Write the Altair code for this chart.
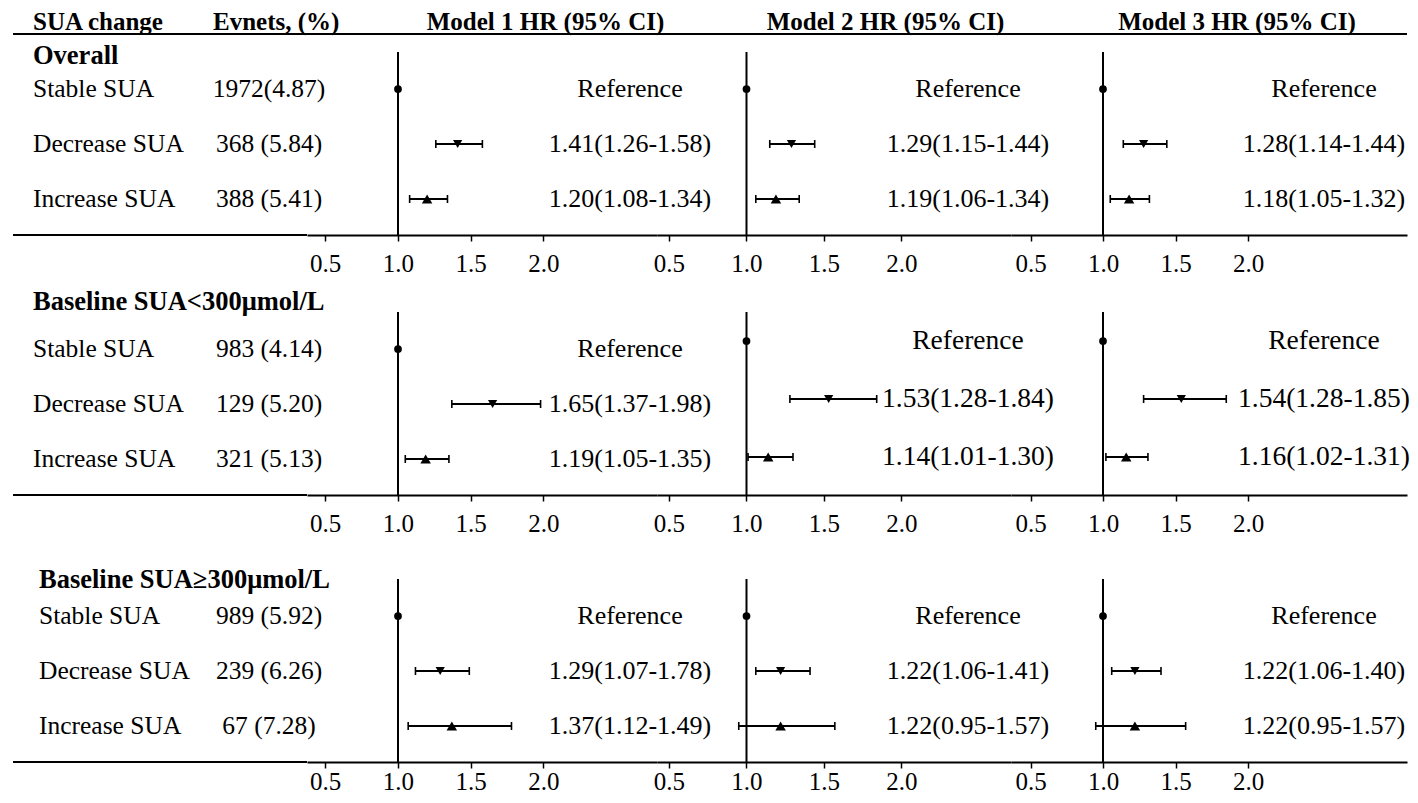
import altair as alt
import pandas as pd

FONT = "Liberation Serif"

# ---------------- data ----------------
sections = ["Overall", "Baseline SUA<300μmol/L", "Baseline SUA≥300μmol/L"]
groups = ["Stable SUA", "Decrease SUA", "Increase SUA"]
shapes = ["circle", "triangle-down", "triangle-up"]
events = [
    ["1972(4.87)", "368 (5.84)", "388 (5.41)"],
    ["983 (4.14)", "129 (5.20)", "321 (5.13)"],
    ["989 (5.92)", "239 (6.26)", "67 (7.28)"],
]
models = ["Model 1 HR (95% CI)", "Model 2 HR (95% CI)", "Model 3 HR (95% CI)"]
header_left = ["SUA change", "Evnets, (%)"]
tick_values = [0.5, 1.0, 1.5, 2.0]

# printed HR text  [section][model][row]
hr_text = [
    [["Reference", "1.41(1.26-1.58)", "1.20(1.08-1.34)"],
     ["Reference", "1.29(1.15-1.44)", "1.19(1.06-1.34)"],
     ["Reference", "1.28(1.14-1.44)", "1.18(1.05-1.32)"]],
    [["Reference", "1.65(1.37-1.98)", "1.19(1.05-1.35)"],
     ["Reference", "1.53(1.28-1.84)", "1.14(1.01-1.30)"],
     ["Reference", "1.54(1.28-1.85)", "1.16(1.02-1.31)"]],
    [["Reference", "1.29(1.07-1.78)", "1.37(1.12-1.49)"],
     ["Reference", "1.22(1.06-1.41)", "1.22(0.95-1.57)"],
     ["Reference", "1.22(1.06-1.40)", "1.22(0.95-1.57)"]],
]
# plotted estimates (as drawn)  [section][model][row]
hr = [
    [[1.0, 1.41, 1.20], [1.0, 1.29, 1.19], [1.0, 1.28, 1.18]],
    [[1.0, 1.65, 1.19], [1.0, 1.53, 1.14], [1.0, 1.54, 1.16]],
    [[1.0, 1.29, 1.37], [1.0, 1.22, 1.22], [1.0, 1.22, 1.22]],
]
lo = [
    [[None, 1.26, 1.08], [None, 1.15, 1.06], [None, 1.14, 1.05]],
    [[None, 1.37, 1.05], [None, 1.28, 1.01], [None, 1.28, 1.02]],
    [[None, 1.12, 1.07], [None, 1.06, 0.95], [None, 1.06, 0.95]],
]
hi = [
    [[None, 1.58, 1.34], [None, 1.44, 1.34], [None, 1.44, 1.32]],
    [[None, 1.98, 1.35], [None, 1.84, 1.30], [None, 1.85, 1.31]],
    [[None, 1.49, 1.78], [None, 1.41, 1.57], [None, 1.40, 1.57]],
]

# ---------------- layout / style ----------------
LABEL_W = 294
MODEL_W = [350, 354, 396]
COL_W = [LABEL_W] + MODEL_W
XDOM = [[0.3746, 2.7801], [0.4226, 2.7065], [0.3655, 3.0965]]
SEC_H = 183
YDOM_DEFAULT = [0.3273, 3.6545]
YDOM_ALT = [0.5, 3.655]          # section 2, models 2 & 3 drawn with wider row spacing
TEXT_X = [323, 311, 313]
LABEL_X = [20, 20, 26]
EVENTS_X = 256
TITLE_DY = [22.5, 8, 19]
LABEL_PAD = [10, 10, 1]
HEADER_H = 24
HEADER_MODEL_X = [238.5, 228.5, 226]
GAPS = [18, 77, 84]
MARKER_SIZES = [60, 110, 110]


def ydom(s, m):
    if s == 1 and m in (1, 2):
        return YDOM_ALT
    return YDOM_DEFAULT


def model_panel(s, m):
    df = pd.DataFrame({
        "row": [1, 2, 3],
        "shape": shapes,
        "hr": hr[s][m],
        "lo": lo[s][m],
        "hi": hi[s][m],
        "label": hr_text[s][m],
    })
    axis = alt.Axis(values=tick_values, format=".1f", title=None, grid=False,
                    tickSize=6, labelPadding=LABEL_PAD[s])
    xscale = alt.Scale(domain=XDOM[m], nice=False, zero=False)
    y = alt.Y("row:Q", scale=alt.Scale(domain=ydom(s, m), reverse=True, nice=False, zero=False),
              axis=None)
    base = alt.Chart(df)
    ci_base = base.transform_filter("isValid(datum.lo)")

    ref = base.transform_filter("datum.row == 1").mark_rule(color="black", strokeWidth=2).encode(
        x=alt.X("hr:Q", scale=xscale, axis=axis, title=None))
    ci = ci_base.mark_rule(color="black", strokeWidth=2).encode(
        x=alt.X("lo:Q", scale=xscale, axis=axis, title=None), x2="hi:Q", y=y)
    cap_lo = ci_base.mark_tick(orient="vertical", size=8, thickness=1.6, color="black", opacity=1).encode(
        x=alt.X("lo:Q", scale=xscale, axis=axis, title=None), y=y)
    cap_hi = ci_base.mark_tick(orient="vertical", size=8, thickness=1.6, color="black", opacity=1).encode(
        x=alt.X("hi:Q", scale=xscale, axis=axis, title=None), y=y)
    pts = base.mark_point(filled=True, opacity=1, color="black").encode(
        x=alt.X("hr:Q", scale=xscale, axis=axis, title=None), y=y,
        shape=alt.Shape("shape:N", scale=alt.Scale(domain=shapes, range=shapes), legend=None),
        size=alt.Size("shape:N", scale=alt.Scale(domain=shapes, range=MARKER_SIZES), legend=None))
    fs = 27.5 if (s == 1 and m in (1, 2)) else 26
    txt = base.mark_text(font=FONT, fontSize=fs, align="center", baseline="middle", color="black").encode(
        x=alt.value(TEXT_X[m]), y=y, text="label:N")
    return alt.layer(ref, ci, cap_lo, cap_hi, pts, txt).properties(width=MODEL_W[m], height=SEC_H)


def label_panel(s):
    df = pd.DataFrame({"row": [1, 2, 3], "group": groups, "events": events[s]})
    dft = pd.DataFrame({"row": [0], "title": [sections[s]]})
    y = alt.Y("row:Q", scale=alt.Scale(domain=YDOM_DEFAULT, reverse=True, nice=False, zero=False),
              axis=None)
    title = alt.Chart(dft).mark_text(font=FONT, fontSize=26.5, fontWeight="bold", align="left",
                                     baseline="middle", dy=TITLE_DY[s], color="black").encode(
        x=alt.value(LABEL_X[s]), y=y, text="title:N")
    grp = alt.Chart(df).mark_text(font=FONT, fontSize=25.5, align="left", baseline="middle",
                                  color="black").encode(x=alt.value(LABEL_X[s]), y=y, text="group:N")
    ev = alt.Chart(df).mark_text(font=FONT, fontSize=25.5, align="center", baseline="middle",
                                 color="black").encode(x=alt.value(EVENTS_X), y=y, text="events:N")
    line = alt.Chart(dft).mark_rule(color="black", strokeWidth=2).encode(y=alt.value(SEC_H))
    return alt.layer(title, grp, ev, line).properties(width=LABEL_W, height=SEC_H)


def header_cell(c):
    if c == 0:
        items = [(header_left[0], 20, "left"), (header_left[1], 200, "left")]
    else:
        items = [(models[c - 1], HEADER_MODEL_X[c - 1], "center")]
    layers = []
    for t, xv, al in items:
        layers.append(alt.Chart(pd.DataFrame({"t": [t]})).mark_text(
            font=FONT, fontSize=25, fontWeight="bold", align=al, baseline="middle", color="black"
        ).encode(x=alt.value(xv), text="t:N"))
    layers.append(alt.Chart(pd.DataFrame({"t": [""]})).mark_rule(color="black", strokeWidth=2).encode(
        y=alt.value(HEADER_H)))
    return alt.layer(*layers).properties(width=COL_W[c], height=HEADER_H)


def spacer(c, h):
    return alt.Chart(pd.DataFrame({"t": [""]})).mark_text().encode(
        text="t:N").properties(width=COL_W[c], height=h)


cells = [header_cell(c) for c in range(4)]
for s in range(3):
    cells += [spacer(c, GAPS[s]) for c in range(4)]
    cells += [label_panel(s)] + [model_panel(s, m) for m in range(3)]

chart = alt.concat(*cells, columns=4, spacing=0, bounds="flush").properties(
    padding={"left": 4, "top": 2, "right": 0, "bottom": 0},
    background="white",
).configure_view(stroke=None).configure_axis(
    domainColor="black", domainWidth=2, tickColor="black", tickWidth=1.5,
    labelColor="black", labelFont=FONT, labelFontSize=25, grid=False,
)

chart.save("out.html", embed_options={"renderer": "svg", "actions": False})
